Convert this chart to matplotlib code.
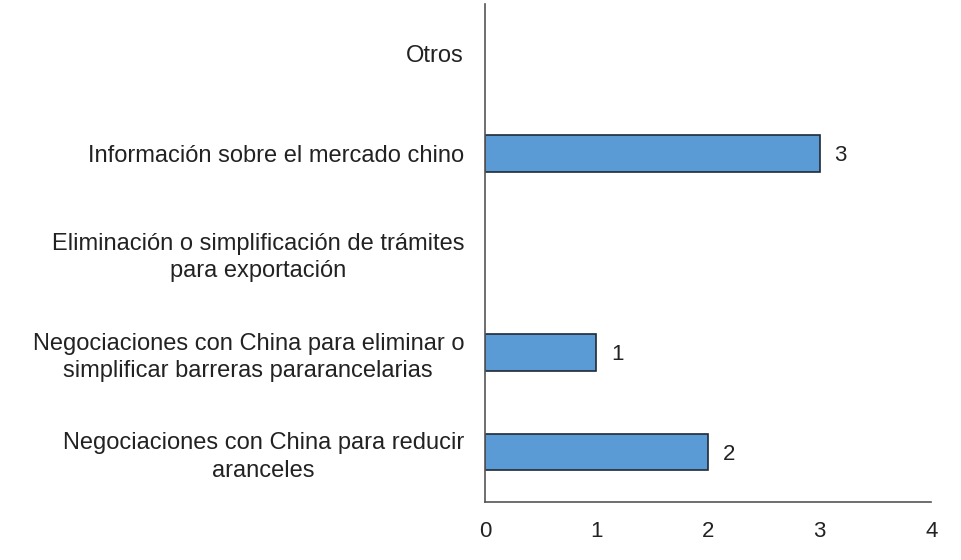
import matplotlib
matplotlib.use("Agg")
import matplotlib.pyplot as plt

plt.rcParams['font.family'] = ['Liberation Sans', 'DejaVu Sans']

categories = [
    "Negociaciones con China para reducir\naranceles",
    "Negociaciones con China para eliminar o\nsimplificar barreras pararancelarias",
    "Eliminación o simplificación de trámites\npara exportación",
    "Información sobre el mercado chino",
    "Otros",
]
values = [2, 1, 0, 3, 0]
xticks = [0, 1, 2, 3, 4]

fig = plt.figure(figsize=(9.62, 5.6), dpi=100)
ax = fig.add_axes([0.504, 0.104, 0.464, 0.889])

pos = list(range(len(categories)))
widths = [1.2 if v > 0 else 0 for v in values]
ax.barh(pos, values, height=0.37, color='#5B9BD5', edgecolor='#1F2A36', linewidth=widths)

# value labels next to the bars
for p, v in zip(pos, values):
    if v > 0:
        ax.text(v + 0.13, p, str(v), va='center_baseline', ha='left', fontsize=16, color='#222222')

ax.set_yticks(pos)
ax.set_yticklabels(categories, fontsize=17, color='#222222', ha='right',
                   multialignment='center', linespacing=1.3)
ax.tick_params(axis='y', length=0, pad=15)
ax.set_xticks(xticks)
ax.set_xticklabels([str(t) for t in xticks], fontsize=16, color='#222222')
ax.tick_params(axis='x', length=0, pad=14)
ax.set_xlim(0, 4)
ax.set_ylim(-0.5, 4.5)

for s in ['top', 'right']:
    ax.spines[s].set_visible(False)
for s in ['left', 'bottom']:
    ax.spines[s].set_color('#555555')
    ax.spines[s].set_linewidth(1.2)

fig.savefig("out.png", dpi=100)
